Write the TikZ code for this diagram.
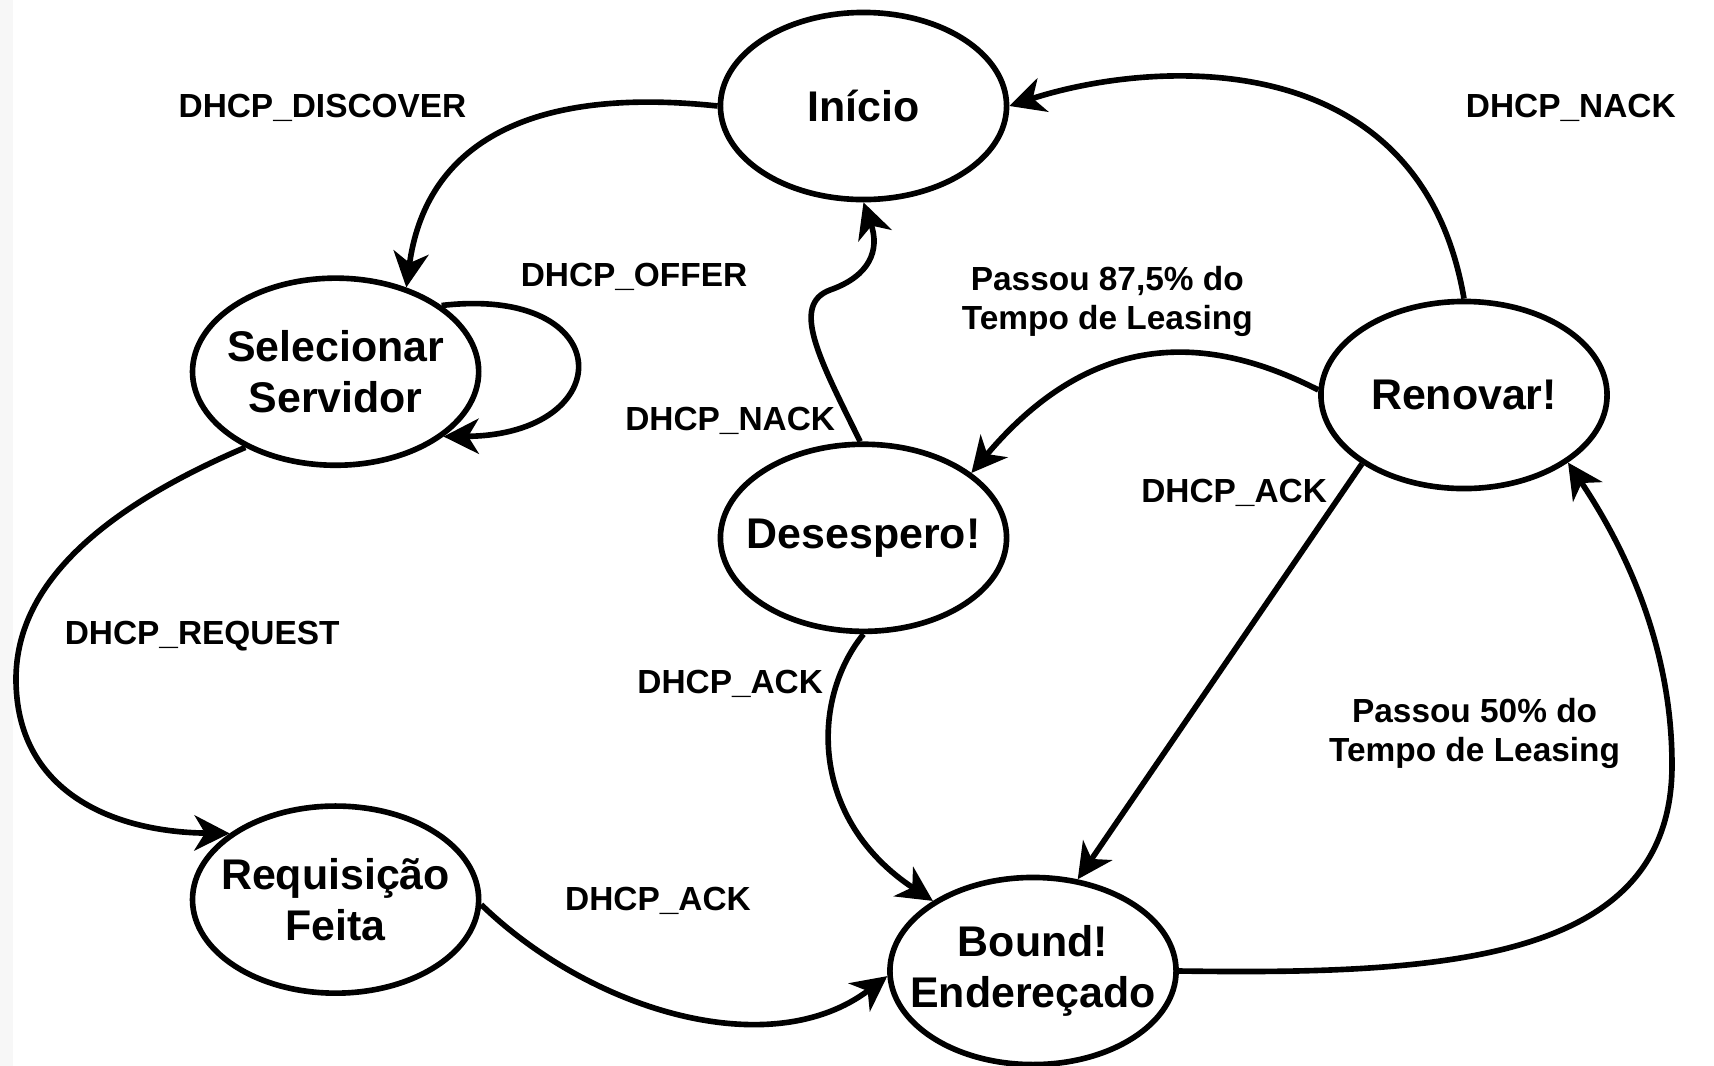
\documentclass[tikz,border=0pt]{standalone}
\usepackage{fontspec}
\setmainfont{Liberation Sans}
\usetikzlibrary{arrows.meta,shapes.geometric}
\begin{document}
\begin{tikzpicture}[x=0.01cm,y=-0.01cm,
  state/.style={draw,line width=1.6pt,ellipse,minimum width=2.86cm,minimum height=1.87cm,inner sep=0pt},
  stxt/.style={font=\bfseries\fontsize{12.2}{14.5}\selectfont,align=center,inner sep=0pt},
  elab/.style={font=\bfseries\fontsize{9.5}{11}\selectfont,inner sep=0pt},
  plab/.style={font=\bfseries\fontsize{9.5}{11.1}\selectfont,align=center,inner sep=0pt},
  conn/.style={line width=1.6pt,-{Stealth[length=10pt,width=10pt,inset=3pt]}}]
\useasboundingbox (0,0) rectangle (1714,1066);
\fill[black!3] (0,0) rectangle (13,1066);

% states
\node[state] (ini) at (863.5,106) {};
\node[state] (sel) at (335.6,371.7) {};
\node[state] (req) at (335.6,899.6) {};
\node[state] (des) at (863.5,537.8) {};
\node[state] (rnv) at (1464,395) {};
\node[state] (bnd) at (1033,971) {};

\node[stxt] (tini) at (ini) {Início};
\node[stxt] (tsel) at (sel) {Selecionar\\Servidor};
\node[stxt] (treq) at (req) {Requisição\\Feita};
\node[stxt] (tdes) at (des) {Desespero!};
\node[stxt] (trnv) at (rnv) {Renovar!};
\node[stxt] (tbnd) at (bnd) {Bound!\\Endereçado};

% connectors
\draw[conn] (ini.west) .. controls (520,85) and (425,150) .. (sel.50);
\draw[conn] (sel.32) .. controls (620,285) and (620,435) .. (sel.-31);
\draw[conn] (sel.220) .. controls (110,505) and (16,580) .. (16,679)
  .. controls (16,790) and (110,832) .. (req.148);
\draw[conn] (req.-2) .. controls (590,1010) and (770,1065) .. (bnd.182);
\draw[conn] (des.south) .. controls (810,700) and (810,820) .. (bnd.145);
\draw[conn] (des.92) .. controls (820,360) and (790,305) .. (830,290)
  .. controls (870,276) and (880,250) .. (ini.south);
\draw[conn] (rnv.north) .. controls (1420,40) and (1150,60) .. (ini.east);
\draw[conn] (rnv.178) .. controls (1220,340) and (1100,320) .. (des.31);
\draw[conn] (rnv.214) -- (bnd.64);
\draw[conn] (bnd.east) .. controls (1450,975) and (1672,960) .. (1672,765)
  .. controls (1672,640) and (1620,540) .. (rnv.-33);

% labels
\node[elab] (l1) at (322.5,108.2) {DHCP\_DISCOVER};
\node[elab] (l2) at (634,276.6) {DHCP\_OFFER};
\node[elab] (l3) at (1570.8,108.2) {DHCP\_NACK};
\node[plab] (l4) at (1107.3,301.7) {Passou 87,5\% do\\Tempo de Leasing};
\node[elab] (l5) at (730.2,420.8) {DHCP\_NACK};
\node[elab] (l6) at (1234.1,493) {DHCP\_ACK};
\node[elab] (l7) at (202.2,636.2) {DHCP\_REQUEST};
\node[elab] (l8) at (730.2,684.3) {DHCP\_ACK};
\node[plab] (l9) at (1474.6,733.5) {Passou 50\% do\\Tempo de Leasing};
\node[elab] (l10) at (658,900.7) {DHCP\_ACK};
\end{tikzpicture}
\end{document}
